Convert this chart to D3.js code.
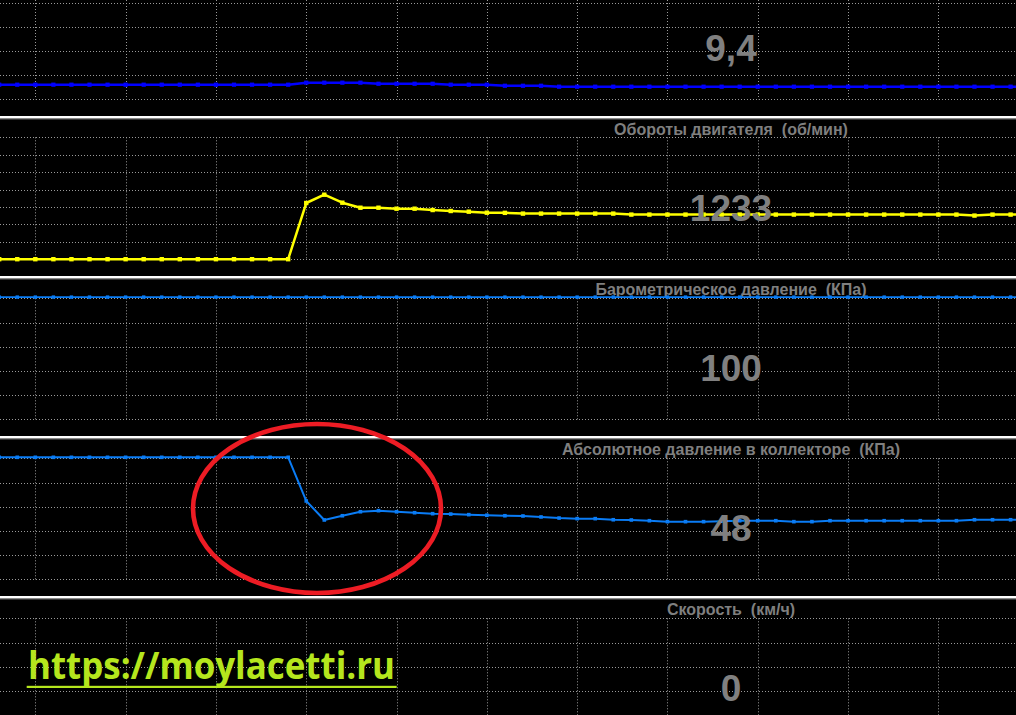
<!DOCTYPE html>
<html><head><meta charset="utf-8">
<script src="https://cdn.jsdelivr.net/npm/d3@7/dist/d3.min.js"></script>
<style>html,body{margin:0;padding:0;background:#000;overflow:hidden}</style>
</head><body>
<svg id="c" width="1016" height="715"></svg>
<script>
// ---- data ----
const sampleIndex = [0,1,2,3,4,5,6,7,8,9,10,11,12,13,14,15,16,17,18,19,20,21,22,23,24,25,26,27,28,29,30,31,32,33,34,35,36,37,38,39,40,41,42,43,44,45,46,47,48,49,50,51,52,53,54,55,56,57];
const topSeries = [10.9,10.9,10.9,10.9,10.9,10.9,10.9,10.9,10.9,10.9,10.9,10.9,10.9,10.9,10.9,10.9,10.9,
  12.4,12.4,12.4,12.4,11.6,11.6,11.6,11.6,10.9,10.9,10.9,10.1,10.1,10.1,
  9.4,9.4,9.4,9.4,9.4,9.4,9.4,9.4,9.4,9.4,9.4,9.4,9.4,9.4,9.4,9.4,9.4,9.4,9.4,9.4,9.4,9.4,9.4,9.4,9.4,9.4,9.4];
const rpmSeries = [0,0,0,0,0,0,0,0,0,0,0,0,0,0,0,0,0,
  1612,1850,1621,1477,1477,1449,1449,1411,1383,1363,1334,1330,
  1308,1308,1308,1308,1308,1308,
  1280,1280,1280,1280,1280,1280,1280,1280,1280,1280,1280,1280,1280,1280,1280,1280,1280,1280,1280,
  1251,1280,1280,1280];
const baroSeries = [100,100,100,100,100,100,100,100,100,100,100,100,100,100,100,100,100,100,100,100,
  100,100,100,100,100,100,100,100,100,100,100,100,100,100,100,100,100,100,100,100,
  100,100,100,100,100,100,100,100,100,100,100,100,100,100,100,100,100,100];
const mapSeries = [100,100,100,100,100,100,100,100,100,100,100,100,100,100,100,100,100,
  63.9,48.2,51.7,55.0,55.9,55.0,54.2,53.4,53.1,52.6,52.1,51.7,51.5,50.7,49.8,49.3,49.3,48.4,48.2,
  47.6,46.8,46.8,46.8,47.2,47.6,47.6,47.6,46.8,46.8,47.6,
  47.6,47.6,47.6,47.6,47.6,47.6,47.6,
  48.4,48.4,48.4,48.4];
const speedSeries = [0,0,0,0,0,0,0,0,0,0,0,0,0,0,0,0,0,0,0,0,0,0,0,0,0,0,0,0,0,0,
  0,0,0,0,0,0,0,0,0,0,0,0,0,0,0,0,0,0,0,0,0,0,0,0,0,0,0,0];
const panelTitles = ["", "Обороты двигателя  (об/мин)", "Барометрическое давление  (КПа)",
  "Абсолютное давление в коллекторе  (КПа)", "Скорость  (км/ч)"];
const currentValues = ["9,4", "1233", "100", "48", "0"];
const siteUrl = "https://moylacetti.ru";

// ---- layout ----
const W = 1016, H = 715;
const svg = d3.select("#c");
svg.append("rect").attr("width", W).attr("height", H).attr("fill", "#000");

const x = d3.scaleLinear().domain([0, 56]).range([-0.8, 1010.6]);

const panels = [
  {sep: -43, series: topSeries,  y: d3.scaleLinear().domain([0, 9.4]).range([99.3, 86.7]),
   grid: "A", color: "#0000ff", lw: 2.6, ms: 4.2},
  {sep: 117, series: rpmSeries,  y: d3.scaleLinear().domain([0, 3500]).range([259.2, 137.2]),
   grid: "B", color: "#ffff00", lw: 2.5, ms: 4.4},
  {sep: 277, series: baroSeries, y: d3.scaleLinear().domain([0, 100]).range([418.3, 297.1]),
   grid: "A", color: "#0a7cf5", lw: 1.8, ms: 3.4},
  {sep: 437, series: mapSeries,  y: d3.scaleLinear().domain([0, 100]).range([578.3, 457.3]),
   grid: "A", color: "#0a7cf5", lw: 2.0, ms: 3.6},
  {sep: 597, series: speedSeries, y: d3.scaleLinear().domain([0, 100]).range([738.3, 617.3]),
   grid: "A", color: "#0a7cf5", lw: 2.0, ms: 3.6}
];

const gridColor = "#9a9a9a";
const vIdx = sampleIndex.filter(i => i >= 2 && (i - 2) % 5 === 0);

panels.forEach((p, k) => {
  const g = svg.append("g");
  let gy;
  if (p.grid === "A") gy = [21.3, 45.5, 69.7, 93.9, 118.1, 142.3].map(o => p.sep + o);
  else gy = d3.range(8).map(j => p.sep + 20.3 + j * 17.43);
  const top = Math.max(0, gy[0]), bot = Math.min(H, gy[gy.length - 1]);
  g.selectAll(".h").data(gy.filter(v => v > -2 && v < H + 2)).enter().append("line")
    .attr("x1", 0).attr("x2", W).attr("y1", d => Math.round(d) + 0.5).attr("y2", d => Math.round(d) + 0.5)
    .attr("stroke", gridColor).attr("stroke-width", 1).attr("stroke-dasharray", "1,2");
  const vBot = k === panels.length - 1 ? H : bot;
  const vTop = k === 0 ? 0 : top;
  g.selectAll(".v").data(vIdx).enter().append("line")
    .attr("x1", d => Math.round(x(d)) + 0.5).attr("x2", d => Math.round(x(d)) + 0.5)
    .attr("y1", vTop).attr("y2", vBot)
    .attr("stroke", gridColor).attr("stroke-width", 1).attr("stroke-dasharray", "1,2");
});

// separators
const seps = panels.map(p => p.sep).filter(s => s > 0);
svg.selectAll(".sepW").data(seps).enter().append("rect")
  .attr("x", 0).attr("width", W).attr("y", d => d - 1).attr("height", 2).attr("fill", "#ffffff");
svg.selectAll(".sepG").data(seps).enter().append("rect")
  .attr("x", 0).attr("width", W).attr("y", d => d + 1).attr("height", 1.4).attr("fill", "#8a8a8a");

// titles
svg.selectAll(".title").data(panels.map((p, k) => ({p, t: panelTitles[k]})).filter(d => d.t)).enter()
  .append("text")
  .attr("x", 731).attr("y", d => d.p.sep + 18)
  .attr("text-anchor", "middle")
  .style("white-space", "pre")
  .attr("font-family", "'Liberation Sans', Arial, sans-serif")
  .attr("font-weight", "bold").attr("font-size", 16)
  .attr("fill", "#7f7f7f")
  .text(d => d.t);

// series lines + markers
panels.forEach(p => {
  const line = d3.line().x((d, i) => x(sampleIndex[i])).y(d => p.y(d));
  svg.append("path").datum(p.series).attr("d", line)
    .attr("fill", "none").attr("stroke", p.color).attr("stroke-width", p.lw)
    .attr("stroke-linejoin", "round");
  svg.append("g").selectAll("rect").data(p.series).enter().append("rect")
    .attr("x", (d, i) => x(sampleIndex[i]) - p.ms / 2)
    .attr("y", d => p.y(d) - p.ms / 2)
    .attr("width", p.ms).attr("height", p.ms).attr("fill", p.color);
});

// big current values (on top of the lines, as in the reference)
svg.selectAll(".val").data(panels.map((p, k) => ({p, t: currentValues[k]}))).enter()
  .append("text")
  .attr("x", 731).attr("y", d => d.p.sep + 103.8)
  .attr("text-anchor", "middle")
  .attr("font-family", "'Liberation Sans', Arial, sans-serif")
  .attr("font-weight", "bold").attr("font-size", 37)
  .attr("fill", "#808080")
  .text(d => d.t);

// red ellipse annotation
svg.append("ellipse").attr("cx", 317).attr("cy", 508.5).attr("rx", 124).attr("ry", 84.5)
  .attr("fill", "none").attr("stroke", "#ed1c24").attr("stroke-width", 4.6);

// site url
svg.append("text").attr("x", 28).attr("y", 679)
  .attr("font-family", "'Open Sans', 'Noto Sans', sans-serif")
  .attr("font-weight", "bold").attr("font-size", 38)
  .attr("textLength", 367).attr("lengthAdjust", "spacingAndGlyphs")
  .attr("fill", "#b5e61d").text(siteUrl);
svg.append("rect").attr("x", 26.7).attr("y", 685.8).attr("width", 370).attr("height", 2.2).attr("fill", "#b5e61d");
</script>
</body></html>
